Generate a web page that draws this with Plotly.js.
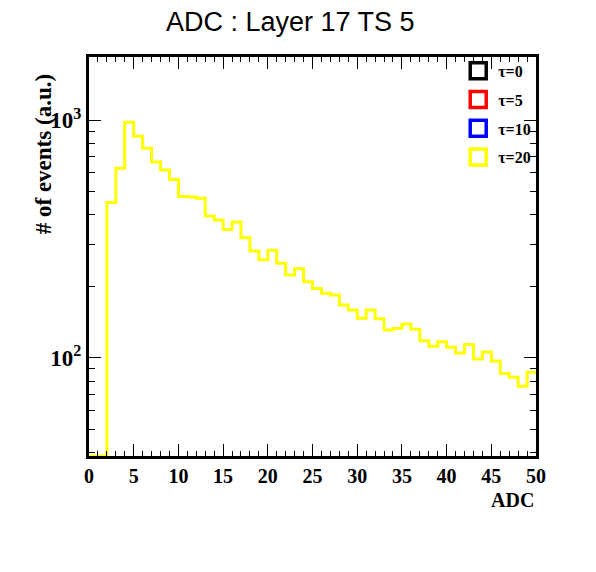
<!DOCTYPE html>
<html>
<head>
<meta charset="utf-8">
<script src="https://cdn.plot.ly/plotly-3.0.1.min.js"></script>
<style>
  html, body { margin: 0; padding: 0; background: #fff; }
  #myDiv { width: 596px; height: 572px; }
</style>
</head>
<body>
<div id="myDiv"></div>
<script>
// ADC histogram, 50 bins of width 1 (bin left edges 0..49)
var binEdges = [];
for (var i = 0; i <= 50; i++) binEdges.push(i);

// counts (bins 0 and 1 are empty)
var counts = [
  0, 0, 451, 627, 981, 856, 761, 666, 617, 563,
  478, 475, 469, 395, 380, 347, 373, 320, 282, 259,
  284, 250, 223, 237, 209, 196, 187, 184, 167, 159,
  147, 159, 146, 131, 133, 139, 132, 118, 112, 117,
  111, 105, 114, 99, 106, 97, 86, 83, 76, 87
];

var tauNames = ['τ=0', 'τ=5', 'τ=10', 'τ=20'];
var tauColors = ['#000000', '#ff0000', '#0000ff', '#ffff00'];

var yMin = 38.7, yMax = 1843;

// ROOT draws empty bins on the lower frame edge
var stepY = counts.map(function (c) { return c > yMin ? c : yMin; });
stepY.push(stepY[stepY.length - 1]);

var data = [];
// only the last histogram (tau=20) is visible, it covers the others
for (var k = 0; k < tauNames.length; k++) {
  var last = (k === tauNames.length - 1);
  data.push({
    x: binEdges,
    y: stepY,
    type: 'scatter',
    mode: 'lines',
    line: { shape: 'hv', color: tauColors[k], width: last ? 3 : 1.5 },
    showlegend: false,
    hoverinfo: 'skip'
  });
}
// legend boxes
for (var k = 0; k < tauNames.length; k++) {
  data.push({
    x: [null],
    y: [null],
    type: 'scatter',
    mode: 'markers',
    name: tauNames[k],
    legendgroup: 'g' + k,
    marker: { symbol: 'square-open', size: 16, color: tauColors[k], line: { width: 3.5 } }
  });
}

var minorY = [40, 50, 60, 70, 80, 90, 200, 300, 400, 500, 600, 700, 800, 900];

var layout = {
  width: 596,
  height: 572,
  margin: { l: 89, r: 60, t: 57, b: 116 },
  paper_bgcolor: '#ffffff',
  plot_bgcolor: '#ffffff',
  title: {
    text: 'ADC : Layer 17 TS 5',
    font: { family: 'Liberation Sans, Arial', size: 27, color: '#000' },
    xref: 'container', x: 0.487, y: 0.962, yanchor: 'middle'
  },
  xaxis: {
    range: [0, 50],
    showgrid: false, zeroline: false,
    showline: true, linecolor: '#000', linewidth: 3, mirror: 'ticks',
    ticks: 'inside', ticklen: 12, tickwidth: 1, tickcolor: '#000',
    tickvals: [0, 5, 10, 15, 20, 25, 30, 35, 40, 45, 50],
    tickfont: { family: 'Liberation Serif, Times New Roman', size: 20, weight: 'bold', color: '#000' },
    minor: { ticks: 'inside', ticklen: 5, tickwidth: 1, tickcolor: '#000', dtick: 1 }
  },
  yaxis: {
    type: 'log',
    range: [Math.log10(yMin), Math.log10(yMax)],
    showgrid: false, zeroline: false,
    showline: true, linecolor: '#000', linewidth: 3, mirror: 'ticks',
    ticks: 'inside', ticklen: 12, tickwidth: 1, tickcolor: '#000',
    tickvals: [100, 1000],
    ticktext: ['10<sup>2</sup>', '10<sup>3</sup>'],
    tickfont: { family: 'Liberation Serif, Times New Roman', size: 23, weight: 'bold', color: '#000' },
    minor: { ticks: 'inside', ticklen: 6, tickwidth: 1, tickcolor: '#000', tickmode: 'array', tickvals: minorY }
  },
  legend: {
    x: 0.826, y: 1.008, xanchor: 'left', yanchor: 'top',
    bgcolor: 'rgba(255,255,255,0)',
    font: { family: 'Liberation Serif, Times New Roman', size: 16, weight: 'bold', color: '#000' },
    tracegroupgap: 5,
    traceorder: 'grouped',
    itemwidth: 30
  },
  annotations: [
    {
      text: '# of events (a.u.)',
      xref: 'paper', yref: 'paper',
      x: -0.1, y: 0.757, xanchor: 'center', yanchor: 'middle',
      textangle: -90, showarrow: false,
      font: { family: 'Liberation Serif, Times New Roman', size: 23, weight: 'bold', color: '#000' }
    },
    {
      text: 'ADC',
      xref: 'paper', yref: 'paper',
      x: 1.0, y: -0.11, xanchor: 'right', yanchor: 'middle',
      showarrow: false,
      font: { family: 'Liberation Serif, Times New Roman', size: 20, weight: 'bold', color: '#000' }
    }
  ]
};

Plotly.newPlot('myDiv', data, layout, { displayModeBar: false, staticPlot: true });
</script>
</body>
</html>
